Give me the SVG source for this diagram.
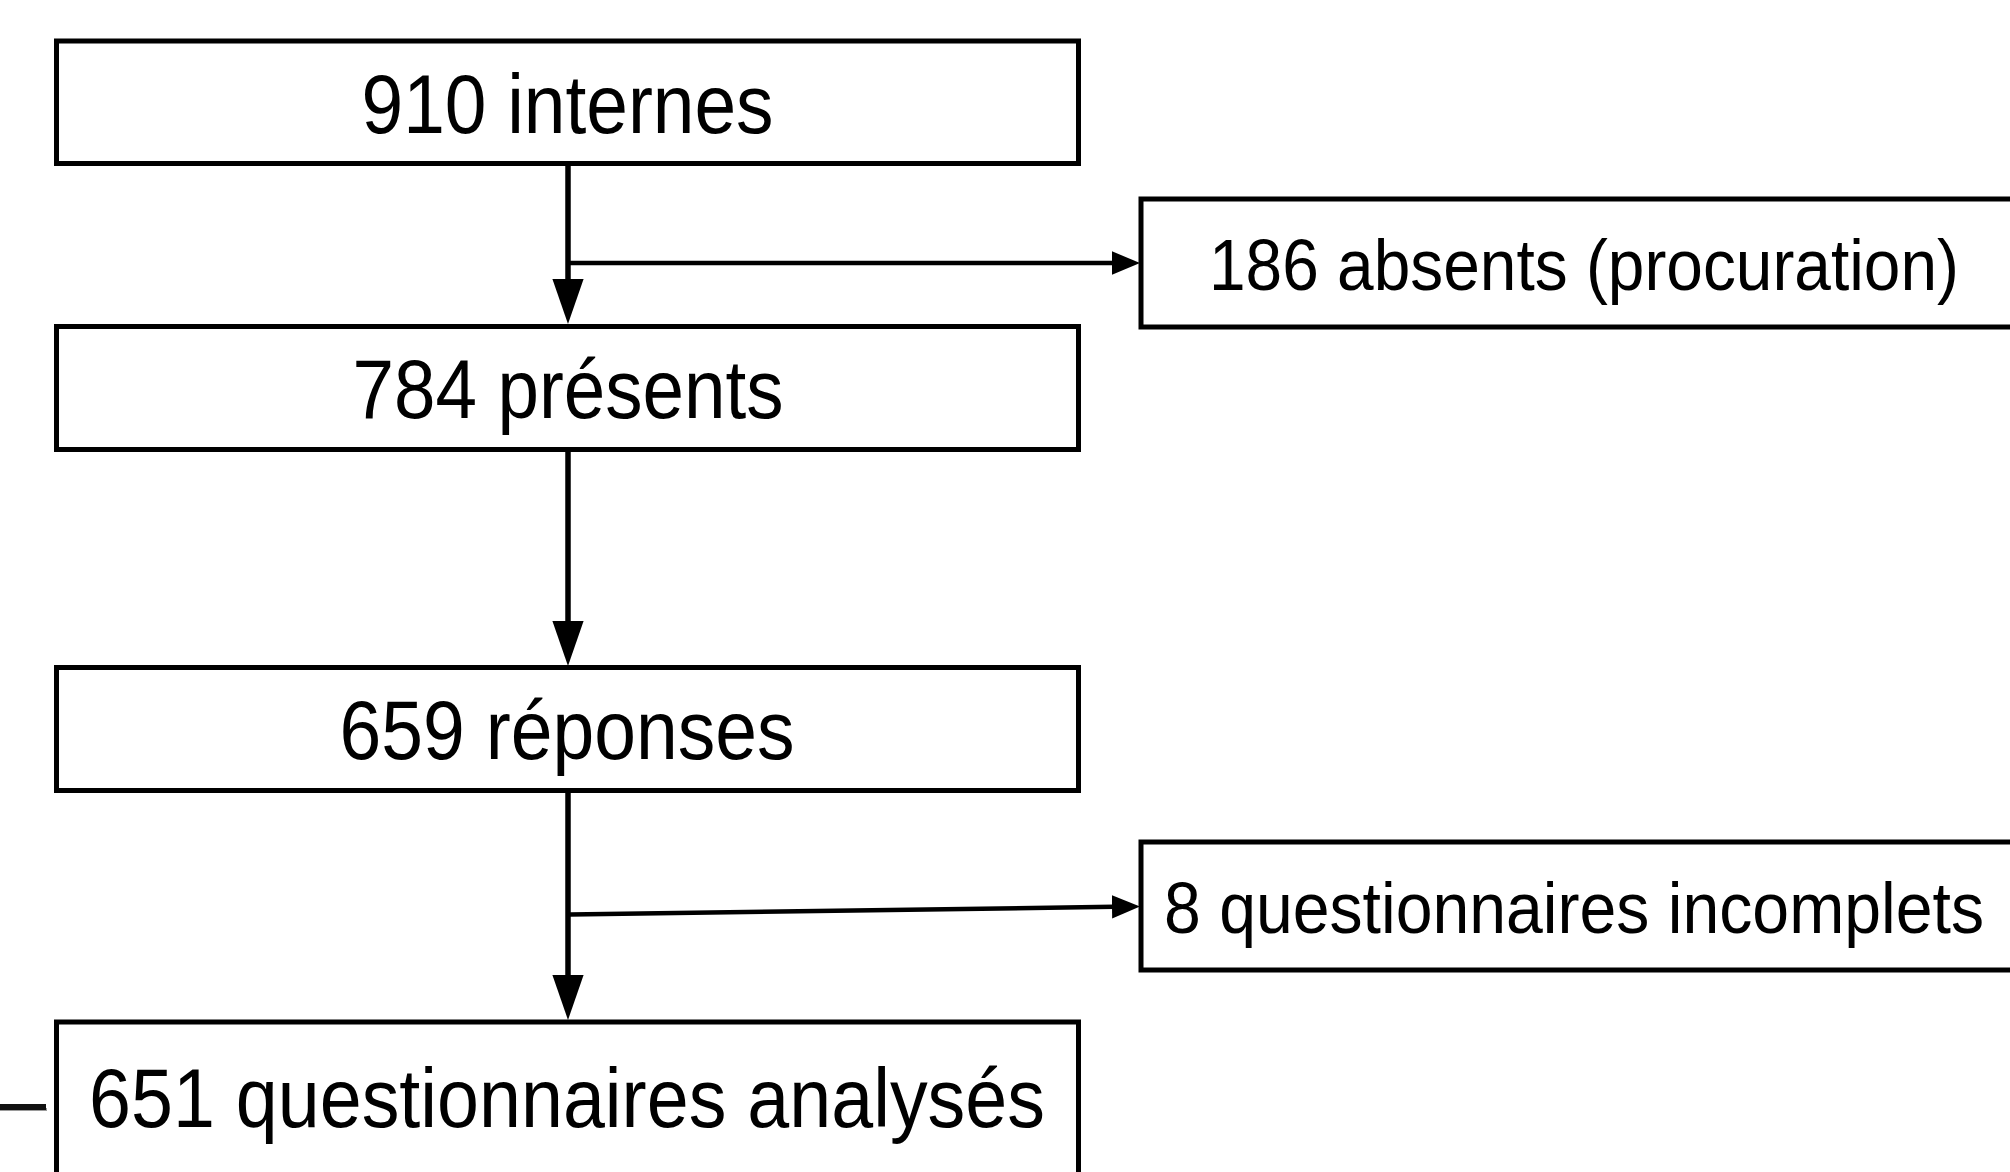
<svg xmlns="http://www.w3.org/2000/svg" width="2010" height="1172" viewBox="0 0 2010 1172">
  <style>
    .box { fill: #ffffff; stroke: #000000; stroke-width: 5; }
    .main { font-family: "Liberation Sans", Arial, sans-serif; font-size: 83px; fill: #000000; text-anchor: middle; }
    .side { font-family: "Liberation Sans", Arial, sans-serif; font-size: 73px; fill: #000000; text-anchor: middle; }
    .conn { fill: none; stroke: #000000; stroke-width: 5.5; }
    .branch { fill: none; stroke: #000000; stroke-width: 4.5; }
  </style>
  <defs>
    <marker id="arrowV" markerUnits="userSpaceOnUse" markerWidth="45" markerHeight="32" viewBox="0 0 45 31.2" refX="25" refY="15.6" orient="auto">
      <path d="M0,0 L45,15.6 L0,31.2 z" fill="#000000"/>
    </marker>
    <marker id="arrowH" markerUnits="userSpaceOnUse" markerWidth="28" markerHeight="24" viewBox="0 0 28 23.4" refX="18" refY="11.7" orient="auto">
      <path d="M0,0 L28,11.7 L0,23.4 z" fill="#000000"/>
    </marker>
  </defs>
  <rect width="2010" height="1172" fill="#ffffff"/>

  <g id="connectors">
    <line class="conn" x1="568" y1="163" x2="568" y2="304" marker-end="url(#arrowV)"/>
    <line class="conn" x1="568" y1="449" x2="568" y2="646" marker-end="url(#arrowV)"/>
    <line class="conn" x1="568" y1="790" x2="568" y2="1000" marker-end="url(#arrowV)"/>
    <line class="branch" x1="570" y1="263" x2="1130" y2="263" marker-end="url(#arrowH)"/>
    <line class="branch" x1="570" y1="914.5" x2="1130" y2="906.6" marker-end="url(#arrowH)"/>
  </g>

  <g id="node-internes">
    <rect class="box" x="56.5" y="41" width="1022" height="122.5"/>
    <text class="main" x="567.5" y="132.7" textLength="412" lengthAdjust="spacingAndGlyphs">910 internes</text>
  </g>
  <g id="node-absents">
    <rect class="box" x="1141" y="199" width="900" height="128"/>
    <text class="side" x="1584" y="290" textLength="750" lengthAdjust="spacingAndGlyphs">186 absents (procuration)</text>
  </g>
  <g id="node-presents">
    <rect class="box" x="56.5" y="326.5" width="1022" height="123"/>
    <text class="main" x="568" y="418.3" textLength="431" lengthAdjust="spacingAndGlyphs">784 présents</text>
  </g>
  <g id="node-reponses">
    <rect class="box" x="56.5" y="667.5" width="1022" height="123"/>
    <text class="main" x="567" y="759.4" textLength="455" lengthAdjust="spacingAndGlyphs">659 réponses</text>
  </g>
  <g id="node-incomplets">
    <rect class="box" x="1141" y="842" width="900" height="128"/>
    <text class="side" x="1574" y="933" textLength="820" lengthAdjust="spacingAndGlyphs">8 questionnaires incomplets</text>
  </g>
  <g id="node-analyses">
    <rect class="box" x="56.5" y="1022" width="1022" height="200"/>
    <text class="main" x="567" y="1127" textLength="956" lengthAdjust="spacingAndGlyphs">651 questionnaires analysés</text>
  </g>

  <rect x="0" y="1108" width="47" height="3" fill="#9a9a9a"/>
  <rect x="0" y="1104" width="46" height="6" fill="#111111"/>
</svg>
